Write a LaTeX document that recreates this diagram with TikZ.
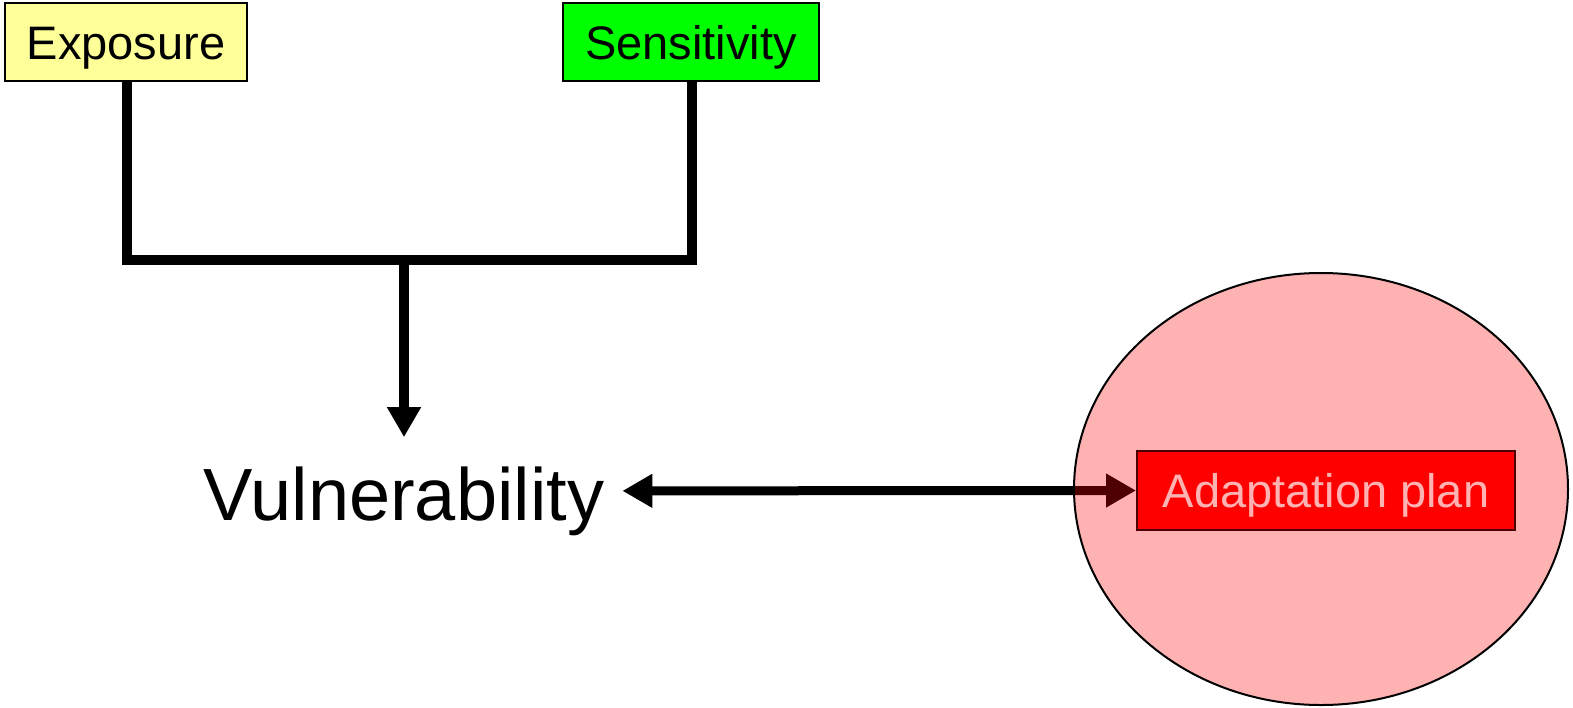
\documentclass[tikz,border=0pt]{standalone}
\usepackage{fontspec}
\setmainfont{Liberation Sans}
\usetikzlibrary{arrows.meta,shapes.geometric}
\begin{document}
\begin{tikzpicture}[x=1pt,y=-1pt,
  factor/.style={draw=black,line width=2pt,minimum height=78pt,inner sep=0pt,text height=34pt,text depth=0pt,font=\fontsize{47}{56}\selectfont},
  link/.style={line width=10pt},
  tip/.style={-{Triangle[length=30pt,width=32pt]}}]
\useasboundingbox (0,0) rectangle (1573,707);
\node[factor,fill={rgb,255:red,255;green,255;blue,153},minimum width=242pt] (exp) at (126,42) {Exposure};
\node[factor,fill={rgb,255:red,0;green,255;blue,0},minimum width=256pt] (sen) at (691,42) {Sensitivity};
\coordinate (jn) at (404,260);
\node[anchor=base,inner xsep=18pt,inner ysep=29pt,font=\fontsize{74}{88}\selectfont] (vul) at (404,520) {Vulnerability};
\draw[link] (exp.south -| 127,0) |- (jn) -| (sen.south -| 692,0);
\draw[link,tip,line cap=butt] (jn) -- (vul.north);
\node[factor,fill=red,text=white,minimum width=378pt,minimum height=79pt] (ada) at (1326,490.5) {Adaptation plan};
\draw[line width=9pt,{Triangle[length=30pt,width=32pt]}-{Triangle[length=30pt,width=32pt]}] ([yshift=10pt]vul.east) -- (ada.west);
\node[ellipse,draw=black,line width=2pt,fill=red,fill opacity=0.3,draw opacity=1,minimum width=494pt,minimum height=432pt,inner sep=0pt] (ring) at (1321,489) {};
\end{tikzpicture}
\end{document}
